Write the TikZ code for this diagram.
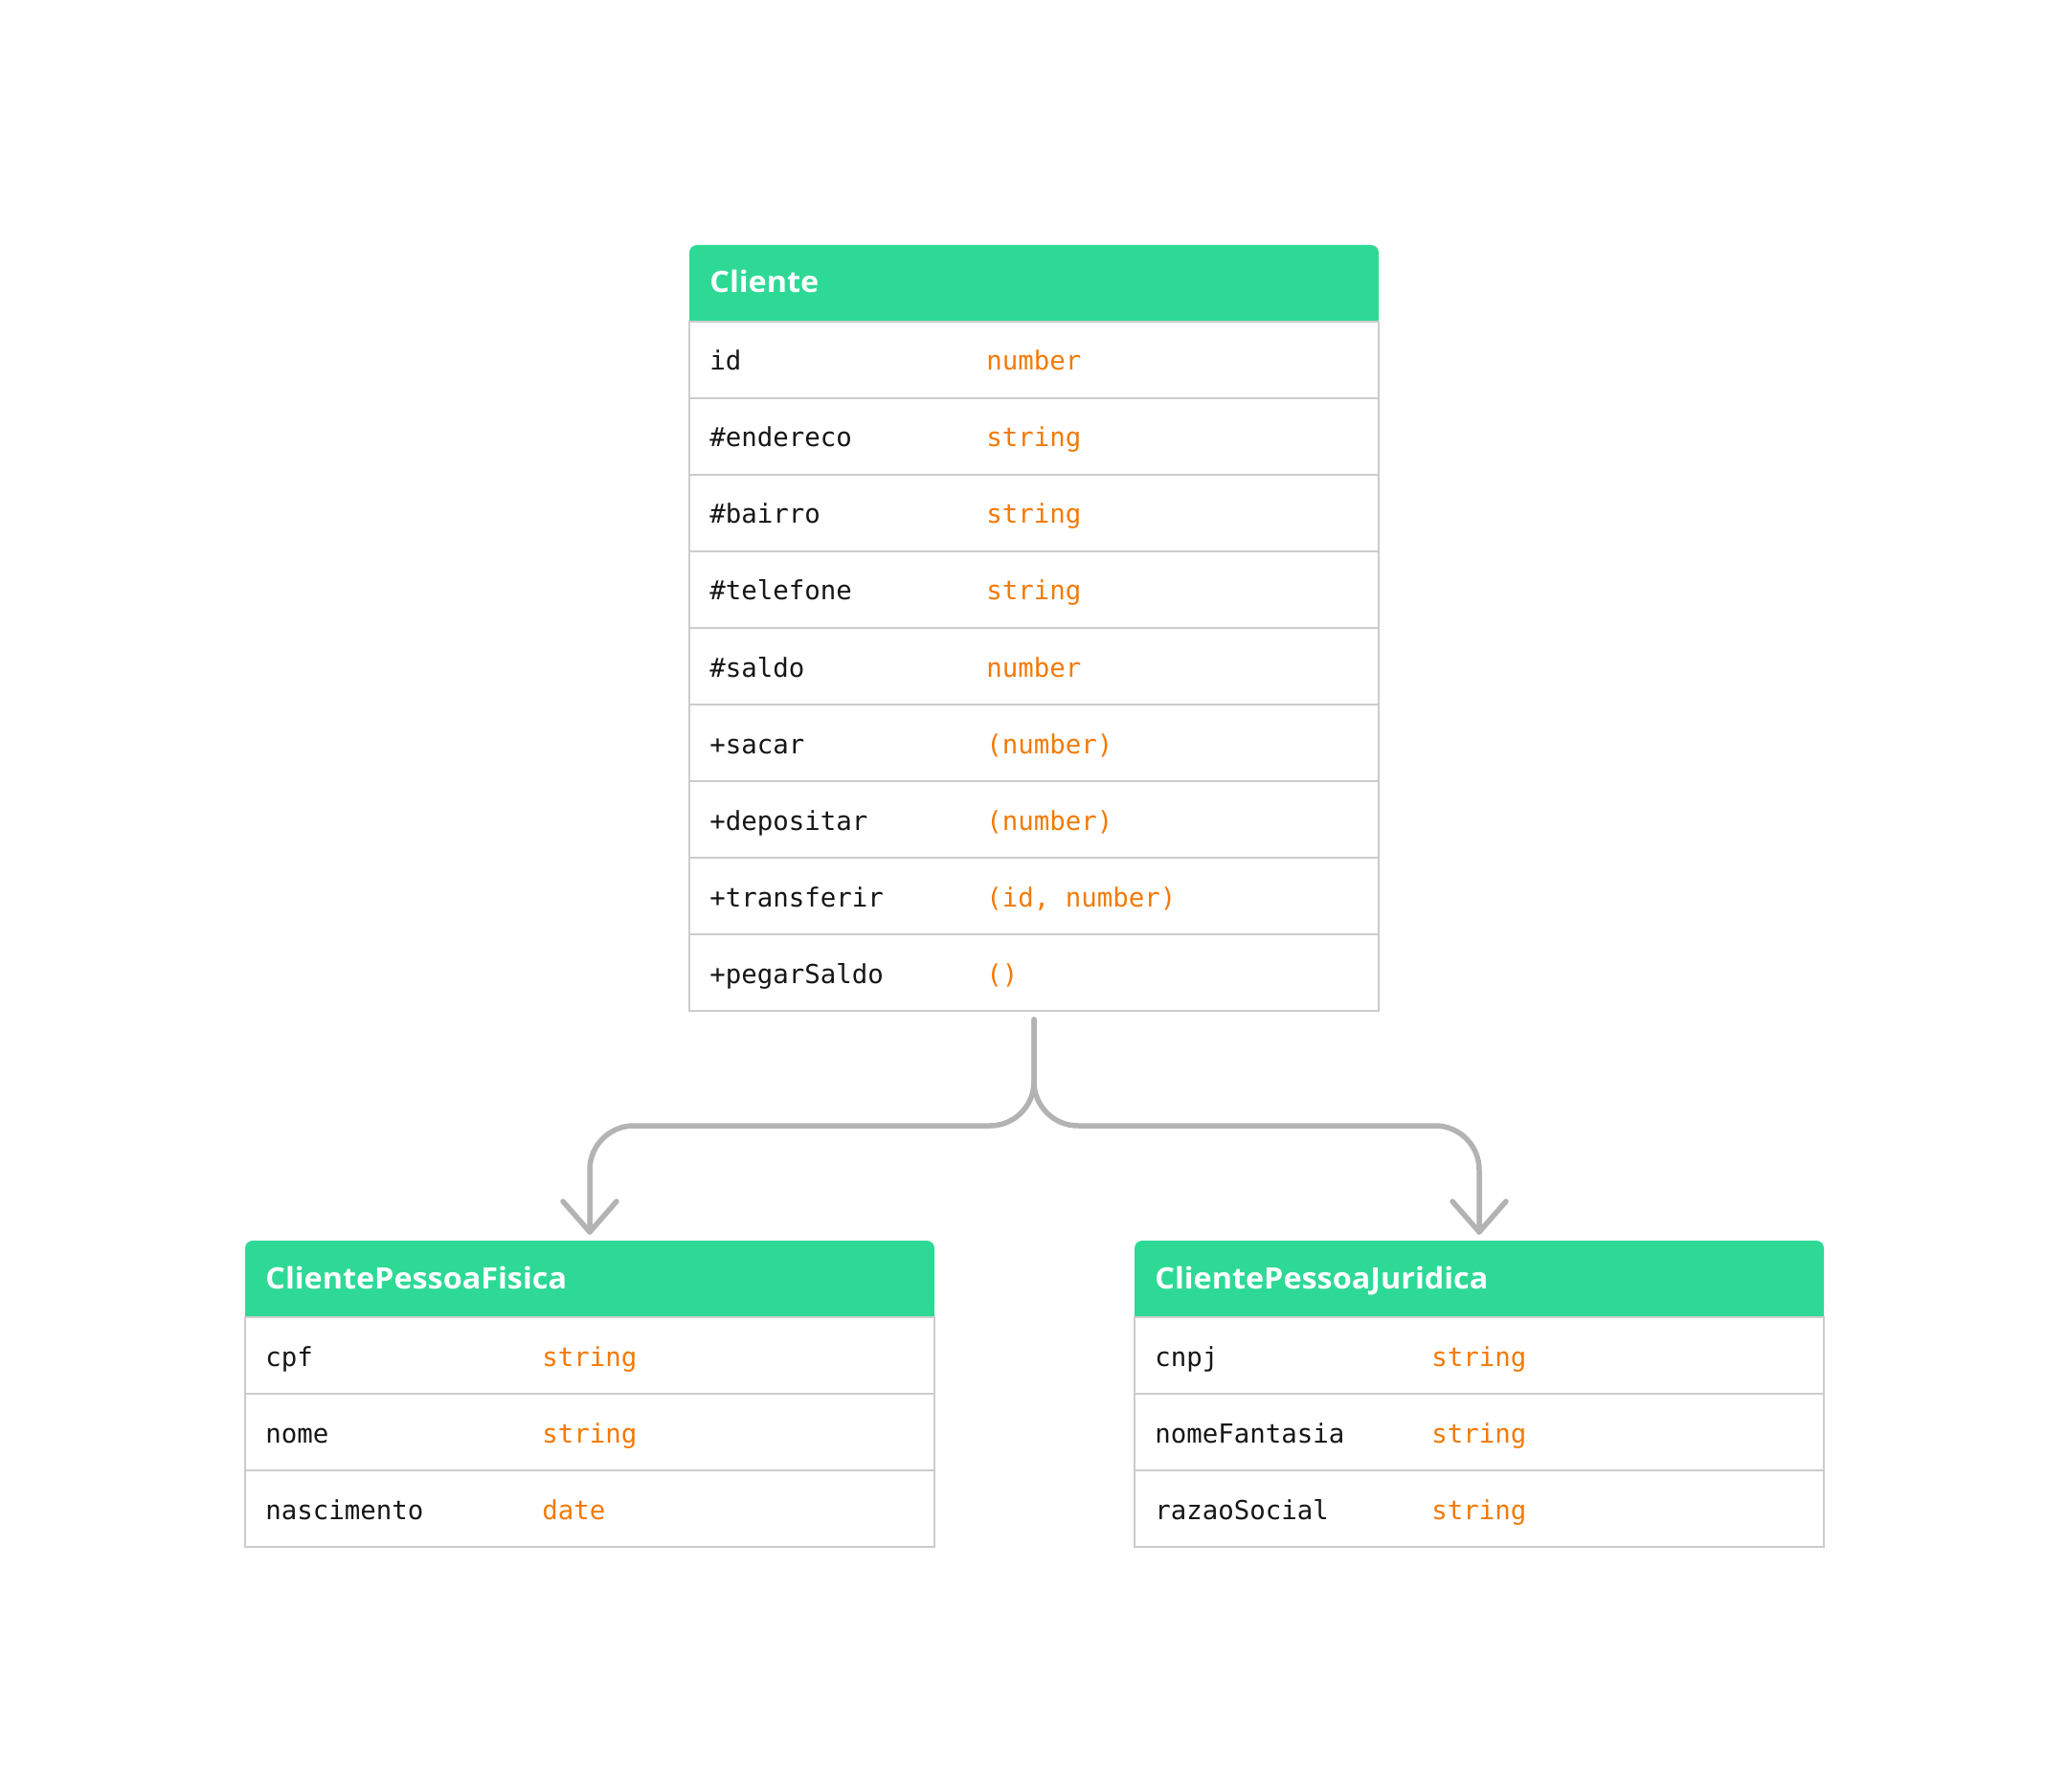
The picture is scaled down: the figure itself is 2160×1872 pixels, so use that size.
\documentclass[tikz,border=0pt]{standalone}
\usepackage{fontspec}
\setmonofont{DejaVu Sans Mono}
\newfontfamily\hdrfont[FakeStretch=1.05]{Open Sans}
\usetikzlibrary{calc}
\definecolor{hdrgreen}{HTML}{2ED996}
\definecolor{typeorange}{HTML}{F37A06}
\definecolor{rowgray}{HTML}{CCCCCC}
\definecolor{conngray}{HTML}{B3B3B3}
\definecolor{txtblack}{HTML}{161616}
\tikzset{
  hdrbox/.style={fill=hdrgreen, rounded corners=4pt, minimum width=360pt, minimum height=40pt, inner sep=0pt, outer sep=0pt, anchor=north west},
  hdrtxt/.style={anchor=base west, inner sep=0pt, text=white, font=\hdrfont\bfseries\fontsize{15.4pt}{18pt}\selectfont},
  rowbox/.style={draw=rowgray, line width=1pt, minimum width=360pt, minimum height=40pt, inner sep=0pt, outer sep=0pt, anchor=north west},
  attrtxt/.style={anchor=base west, inner sep=0pt, text=txtblack, font=\ttfamily\fontsize{13.7pt}{16pt}\selectfont},
  typetxt/.style={anchor=base west, inner sep=0pt, text=typeorange, font=\ttfamily\fontsize{13.7pt}{16pt}\selectfont},
  conn/.style={draw=conngray, line width=2.75pt, line cap=round, line join=round}
}
\newcommand\mkheader[3]{% name, position, title
  \node[hdrbox] (#1) at (#2) {};
  \fill[hdrgreen] (#1.west) rectangle (#1.south east);
  \node[hdrtxt] (#1-t) at ($(#1.west)+(21,10)$) {#3};
}
\newcommand\mkrow[4]{% name, previous, attribute, type
  \node[rowbox] (#1) at (#2.south west) {};
  \node[attrtxt] (#1-a) at ($(#1.west)+(21,11)$) {#3};
  \node[typetxt] (#1-b) at ($(#1.west)+(310,11)$) {#4};
}
\begin{document}
\begin{tikzpicture}[x=0.5pt, y=-0.5pt]
\fill[white] (0,0) rectangle (2160,1872);
\useasboundingbox (0,0) rectangle (2160,1872);
% Cliente
\mkheader{c0}{720,256}{Cliente}
\mkrow{c1}{c0}{id}{number}
\mkrow{c2}{c1}{\#endereco}{string}
\mkrow{c3}{c2}{\#bairro}{string}
\mkrow{c4}{c3}{\#telefone}{string}
\mkrow{c5}{c4}{\#saldo}{number}
\mkrow{c6}{c5}{+sacar}{(number)}
\mkrow{c7}{c6}{+depositar}{(number)}
\mkrow{c8}{c7}{+transferir}{(id, number)}
\mkrow{c9}{c8}{+pegarSaldo}{()}
% ClientePessoaFisica
\mkheader{f0}{256,1296}{ClientePessoaFisica}
\mkrow{f1}{f0}{cpf}{string}
\mkrow{f2}{f1}{nome}{string}
\mkrow{f3}{f2}{nascimento}{date}
% ClientePessoaJuridica
\mkheader{j0}{1185,1296}{ClientePessoaJuridica}
\mkrow{j1}{j0}{cnpj}{string}
\mkrow{j2}{j1}{nomeFantasia}{string}
\mkrow{j3}{j2}{razaoSocial}{string}
% connectors
\coordinate (src) at ($(c9.south)+(0,9)$);
\coordinate (fork) at ($(c9.south)!0.5!(f0.north)$);
\coordinate (ltip) at ($(f0.north)+(0,-9)$);
\coordinate (rtip) at ($(j0.north)+(0,-9)$);
\draw[conn, rounded corners=23pt] (src) -- (src |- fork) -| (ltip);
\draw[conn, rounded corners=23pt] (src) -- (src |- fork) -| (rtip);
\draw[conn] ($(ltip)+(-28,-32)$) -- (ltip) -- ($(ltip)+(28,-32)$);
\draw[conn] ($(rtip)+(-28,-32)$) -- (rtip) -- ($(rtip)+(28,-32)$);
\end{tikzpicture}
\end{document}
